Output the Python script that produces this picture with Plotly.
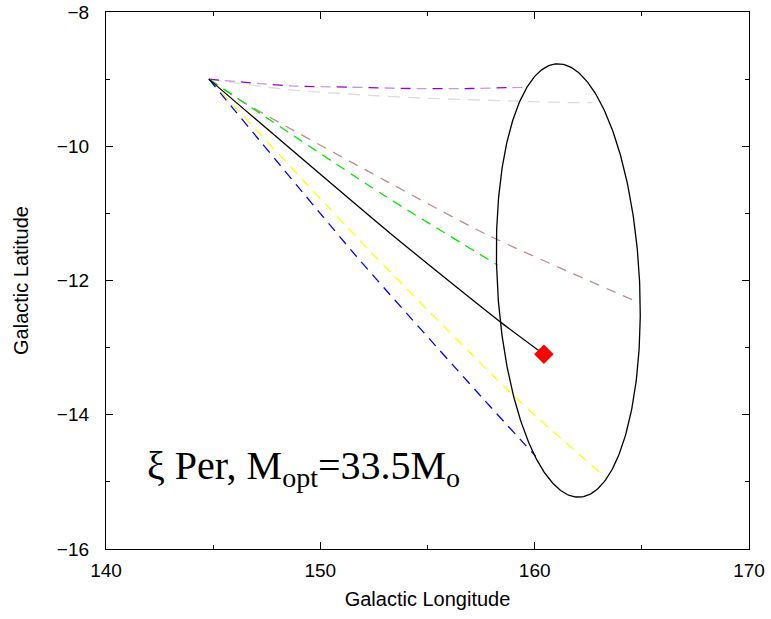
import numpy as np
import plotly.graph_objects as go

# ---- data ----
purple_x = [144.8, 148.6, 151.4, 154.2, 157.0, 159.6]
purple_y = [-9.0, -9.10, -9.12, -9.14, -9.14, -9.12]

gray_x = [144.8, 148.6, 152.5, 154.8, 158.4, 161.5, 162.7]
gray_y = [-9.0, -9.16, -9.245, -9.283, -9.32, -9.35, -9.35]

brown_x = [144.8, 146.5, 152.96, 157.79, 164.72]
brown_y = [-9.0, -9.36, -10.50, -11.32, -12.31]

green_x = [144.8, 152.96, 158.27]
green_y = [-9.0, -10.73, -11.77]

black_x = [144.8, 153.27, 158.41, 160.43]
black_y = [-9.0, -11.30, -12.62, -13.10]

yellow_x = [144.8, 152.34, 159.03, 163.36]
yellow_y = [-9.0, -11.57, -13.72, -14.95]

blue_x = [144.8, 151.71, 157.48, 160.05]
blue_y = [-9.0, -11.65, -13.72, -14.62]

star_x = [160.43]
star_y = [-13.10]

# error ellipse: centre and two semi-axis vectors (data units)
ell_center = (161.57, -12.0)
ell_axis_a = (-0.537, 3.227)
ell_axis_b = (3.313, 0.056)

x_ticks = [140, 150, 160, 170]
y_ticks = [-16, -14, -12, -10, -8]

t = np.linspace(0, 2 * np.pi, 361)
ell_x = ell_center[0] + ell_axis_a[0] * np.cos(t) + ell_axis_b[0] * np.sin(t)
ell_y = ell_center[1] + ell_axis_a[1] * np.cos(t) + ell_axis_b[1] * np.sin(t)

fig = go.Figure()

def line(x, y, color, dash, width=1.3):
    fig.add_trace(go.Scatter(x=x, y=y, mode="lines",
                             line=dict(color=color, width=width, dash=dash, shape="spline", smoothing=0.6),
                             hoverinfo="skip", showlegend=False))

line(gray_x, gray_y, "#DCDCDC", "12px,8px")
line(purple_x, purple_y, "#C896E6", "0px,16px,10px,6px")
line(purple_x, purple_y, "#9400D3", "10px,22px")
line(brown_x, brown_y, "#BC8F8F", "10px,8px")
line(green_x, green_y, "#00E600", "10px,7px")
line(yellow_x, yellow_y, "#FFFF00", "10px,7px")
line(blue_x, blue_y, "#0000FF", "10px,7px")
line(black_x, black_y, "#000000", None)

fig.add_trace(go.Scatter(x=ell_x, y=ell_y, mode="lines",
                         line=dict(color="black", width=1.3),
                         hoverinfo="skip", showlegend=False))

fig.add_trace(go.Scatter(x=star_x, y=star_y, mode="markers",
                         marker=dict(symbol="diamond", size=15, color="#FF0000"),
                         hoverinfo="skip", showlegend=False))

fig.add_annotation(x=141.8, y=-14.80, xref="x", yref="y",
                   text="ξ Per, M<sub>opt</sub>=33.5M<sub>o</sub>",
                   showarrow=False, xanchor="left", yanchor="middle",
                   font=dict(family="Liberation Serif", size=40, color="black"))

axis_common = dict(showline=True, linecolor="black", linewidth=1.2, mirror="ticks",
                   ticks="inside", ticklen=7, tickwidth=1, tickcolor="black",
                   showgrid=False, zeroline=False, automargin=False,
                   ticklabeloverflow="allow",
                   tickfont=dict(family="Liberation Sans", size=19, color="black"),
                   title_font=dict(family="Liberation Sans", size=20, color="black"))

fig.update_xaxes(range=[140, 170], tickvals=x_ticks, ticklabelstandoff=4,
                 title_text="Galactic Longitude", title_standoff=12,
                 minor=dict(ticks="inside", ticklen=4, dtick=5, tick0=140, tickcolor="black", showgrid=False),
                 **axis_common)
fig.update_yaxes(range=[-16, -8], tickvals=y_ticks, ticklabelstandoff=12,
                 title_text="Galactic Latitude", title_standoff=22,
                 minor=dict(ticks="inside", ticklen=4, dtick=1, tick0=-16, tickcolor="black", showgrid=False),
                 **axis_common)

fig.update_layout(width=771, height=619, autosize=False,
                  margin=dict(l=106, r=22, t=12, b=70),
                  paper_bgcolor="white", plot_bgcolor="white")

# remove the default page margin so the figure fills the window exactly
fig.write_html("out.html", config={"displayModeBar": False},
               post_script="document.body.style.margin='0';document.body.style.overflow='hidden';")
